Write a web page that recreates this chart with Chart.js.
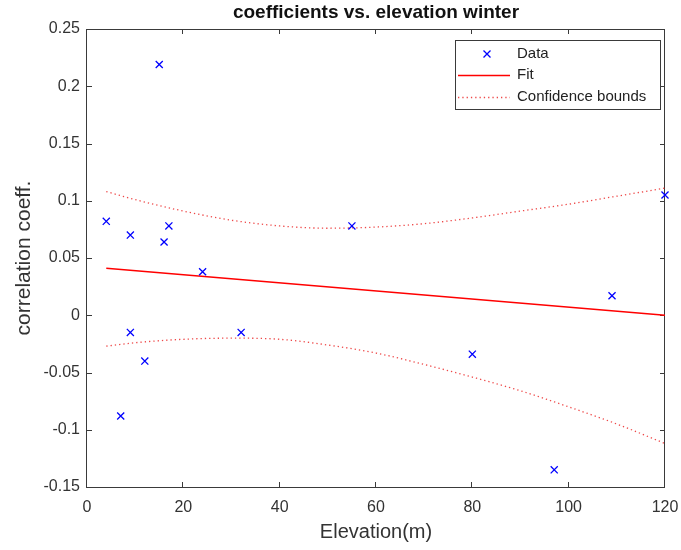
<!DOCTYPE html>
<html>
<head>
<meta charset="utf-8">
<script src="https://cdn.jsdelivr.net/npm/chart.js@4.4.1/dist/chart.umd.min.js"></script>
<style>
  html, body { margin: 0; padding: 0; background: #fff; }
  #wrap { width: 681px; height: 550px; }
</style>
</head>
<body>
<div id="wrap"><canvas id="chart" width="681" height="550"></canvas></div>
<script>
// station elevation (m) and winter correlation coefficient
const elevation = [4, 7, 9, 9, 12, 15, 16, 17, 24, 32, 55, 80, 97, 109, 120];
const coeff = [0.082, -0.088, 0.070, -0.015, -0.040, 0.219, 0.064, 0.078, 0.038, -0.015, 0.078, -0.034, -0.135, 0.017, 0.105];

// linear fit end points
const fitX = [4, 120];
const fitY = [0.041, 0.0];

// confidence bounds
const boundX = [4, 10, 20, 30, 40, 50, 60, 70, 80, 90, 100, 110, 120];
const upperBound = [0.108, 0.101, 0.091, 0.083, 0.078, 0.076, 0.077, 0.080, 0.085, 0.091, 0.097, 0.104, 0.111];
const lowerBound = [-0.027, -0.024, -0.021, -0.020, -0.021, -0.026, -0.033, -0.043, -0.054, -0.066, -0.080, -0.095, -0.112];

// axis ticks
const xTicks = [0, 20, 40, 60, 80, 100, 120];
const xTickLabels = ['0', '20', '40', '60', '80', '100', '120'];
const yTicks = [-0.15, -0.1, -0.05, 0, 0.05, 0.1, 0.15, 0.2, 0.25];
const yTickLabels = ['-0.15', '-0.1', '-0.05', '0', '0.05', '0.1', '0.15', '0.2', '0.25'];

const chartTitle = 'coefficients vs. elevation winter';

const FONT = 'Liberation Sans, Arial, Helvetica, sans-serif';
const AXIS_COLOR = '#3a3a3a';
const BLUE = '#0000ff';
const RED = '#ff0000';

const toPoints = (xs, ys) => xs.map((x, i) => ({ x: x, y: ys[i] }));

// box round the axes with inward ticks on all four sides, title over the axes, legend
const boxPlugin = {
    id: 'axesBox',
    beforeDatasetsDraw(chart) {
        const { ctx, chartArea: a, scales } = chart;
        const len = 5;
        ctx.save();
        ctx.strokeStyle = AXIS_COLOR;
        ctx.lineWidth = 1;
        ctx.strokeRect(a.left - 0.5, a.top + 0.5, a.right - a.left, a.bottom - a.top);
        ctx.beginPath();
        xTicks.forEach(v => {
            const px = Math.round(scales.x.getPixelForValue(v)) - 0.5;
            ctx.moveTo(px, a.bottom); ctx.lineTo(px, a.bottom - len);
            ctx.moveTo(px, a.top); ctx.lineTo(px, a.top + len);
        });
        yTicks.forEach(v => {
            const py = Math.round(scales.y.getPixelForValue(v)) + 0.5;
            ctx.moveTo(a.left, py); ctx.lineTo(a.left + len, py);
            ctx.moveTo(a.right, py); ctx.lineTo(a.right - len, py);
        });
        ctx.stroke();

        // title centred over the plot box
        ctx.fillStyle = '#111';
        ctx.font = 'bold 19px ' + FONT;
        ctx.textAlign = 'center';
        ctx.textBaseline = 'middle';
        ctx.fillText(chartTitle, (a.left + a.right) / 2, 13);
        ctx.restore();
    },
    afterDraw(chart) {
        // legend box in the top right corner
        const ctx = chart.ctx;
        const ds = chart.data.datasets;
        const bx = 455, by = 40, bw = 205, bh = 69;
        ctx.save();
        ctx.fillStyle = '#fff';
        ctx.fillRect(bx, by, bw, bh);
        ctx.strokeStyle = AXIS_COLOR;
        ctx.lineWidth = 1;
        ctx.strokeRect(bx + 0.5, by + 0.5, bw, bh);

        const rows = [54, 75, 97];
        const entries = [ds[0], ds[1], ds[2]];
        entries.forEach((d, i) => {
            const y = rows[i];
            ctx.strokeStyle = d.borderColor;
            ctx.lineWidth = d.borderWidth;
            if (i === 0) {
                const r = 3.5;
                ctx.beginPath();
                ctx.moveTo(487 - r, y - r); ctx.lineTo(487 + r, y + r);
                ctx.moveTo(487 - r, y + r); ctx.lineTo(487 + r, y - r);
                ctx.stroke();
            } else {
                ctx.setLineDash(d.borderDash || []);
                ctx.beginPath();
                ctx.moveTo(458, y + 0.5); ctx.lineTo(510, y + 0.5);
                ctx.stroke();
                ctx.setLineDash([]);
            }
            ctx.fillStyle = '#222';
            ctx.font = '15px ' + FONT;
            ctx.textBaseline = 'middle';
            ctx.textAlign = 'left';
            ctx.fillText(d.label, 517, y);
        });
        ctx.restore();
    }
};

const chart = document.querySelector('#chart').getContext('2d');

new Chart(chart, {
    type: 'scatter',
    data: {
        datasets: [
            {
                label: 'Data',
                data: toPoints(elevation, coeff),
                showLine: false,
                pointStyle: 'crossRot',
                pointRadius: 5,
                pointHoverRadius: 5,
                borderColor: BLUE,
                backgroundColor: BLUE,
                borderWidth: 1.3,
                clip: false,
                order: 0
            },
            {
                label: 'Fit',
                data: toPoints(fitX, fitY),
                showLine: true,
                pointRadius: 0,
                borderColor: RED,
                borderWidth: 1.5,
                order: 1
            },
            {
                label: 'Confidence bounds',
                data: toPoints(boundX, upperBound),
                showLine: true,
                pointRadius: 0,
                borderColor: 'rgba(235,40,40,0.85)',
                borderWidth: 1.3,
                borderDash: [1.3, 3],
                cubicInterpolationMode: 'monotone',
                order: 2
            },
            {
                label: 'Confidence bounds',
                data: toPoints(boundX, lowerBound),
                showLine: true,
                pointRadius: 0,
                borderColor: 'rgba(235,40,40,0.85)',
                borderWidth: 1.3,
                borderDash: [1.3, 3],
                cubicInterpolationMode: 'monotone',
                order: 2
            }
        ]
    },
    options: {
        responsive: false,
        animation: false,
        devicePixelRatio: 1,
        layout: { padding: { left: 0, right: 16, top: 29, bottom: 0 } },
        plugins: {
            legend: { display: false },
            tooltip: { enabled: false },
            title: { display: false }
        },
        scales: {
            x: {
                type: 'linear',
                min: 0,
                max: 120,
                afterBuildTicks: s => { s.ticks = xTicks.map(v => ({ value: v })); },
                afterFit: s => { s.height = 63; s.paddingLeft = 0; s.paddingRight = 0; },
                grid: { display: false, drawTicks: false },
                border: { display: false },
                ticks: {
                    padding: 11,
                    color: '#333',
                    font: { family: FONT, size: 16 },
                    maxRotation: 0,
                    callback: (v, i) => xTickLabels[i]
                },
                title: {
                    display: true,
                    text: 'Elevation(m)',
                    color: '#333',
                    font: { family: FONT, size: 20 },
                    padding: { top: 0, bottom: 6 }
                }
            },
            y: {
                type: 'linear',
                min: -0.15,
                max: 0.25,
                afterBuildTicks: s => { s.ticks = yTicks.map(v => ({ value: v })); },
                afterFit: s => { s.width = 87; s.paddingTop = 0; s.paddingBottom = 0; },
                grid: { display: false, drawTicks: false },
                border: { display: false },
                ticks: {
                    padding: 7,
                    color: '#333',
                    font: { family: FONT, size: 16 },
                    callback: (v, i) => yTickLabels[i]
                },
                title: {
                    display: true,
                    text: 'correlation coeff.',
                    color: '#333',
                    font: { family: FONT, size: 21 },
                    padding: { top: 12, bottom: 0 }
                }
            }
        }
    },
    plugins: [boxPlugin]
});
</script>
</body>
</html>
